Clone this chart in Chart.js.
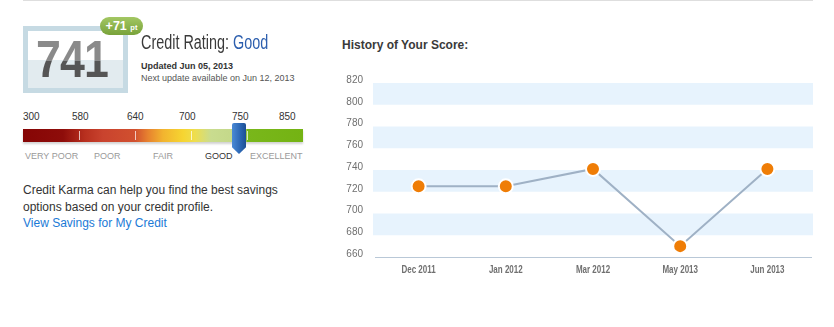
<!DOCTYPE html>
<html>
<head>
<meta charset="utf-8">
<script src="https://cdn.jsdelivr.net/npm/chart.js@4.4.0/dist/chart.umd.min.js"></script>
<style>
  html, body { margin: 0; padding: 0; background: #fff; }
  body { width: 834px; height: 327px; position: relative; overflow: hidden;
         font-family: "Liberation Sans", Arial, Helvetica, sans-serif; color: #333; }
  .cond { transform-origin: 0 50%; white-space: nowrap; }
  #topline { position: absolute; left: 23px; top: 0; width: 790px; height: 1px; background: #dedede; }

  /* score box */
  #scorebox { position: absolute; left: 23px; top: 26px; width: 95px; height: 57px;
              border: 5px solid #c6dae3; background: linear-gradient(#fff 0, #fff 29px, #e2ebef 29px); }
  #score { position: absolute; left: 8px; top: 2px; font-size: 52px; font-weight: bold; line-height: 52px;
           letter-spacing: -1px; transform: scaleX(0.86);
           background: linear-gradient(#8a8a8a 0, #8a8a8a 28px, #555 28px);
           -webkit-background-clip: text; background-clip: text; color: transparent; }
  #badge { position: absolute; left: 100px; top: 17px; width: 43px; height: 18px; border-radius: 9px;
           background: linear-gradient(#a3c763, #78a23a); color: #fff; font-weight: bold;
           font-size: 12.5px; line-height: 18px; text-align: center; }
  #badge small { font-size: 7.5px; }

  #rating { position: absolute; left: 141px; top: 31px; font-size: 20px; color: #3a3a3a; transform: scaleX(0.72); }
  #rating span { color: #2d5fae; }
  #updated { position: absolute; left: 141px; top: 61px; font-size: 9px; font-weight: bold; color: #333; }
  #next { position: absolute; left: 141px; top: 73px; font-size: 9px; color: #555; }

  /* gauge */
  .gnum { position: absolute; top: 111px; font-size: 10px; color: #333; }
  #bar { position: absolute; left: 23px; top: 129px; width: 280px; height: 13px;
         box-shadow: 0 2px 2px rgba(0,0,0,0.18);
         background: linear-gradient(to right,
           #860505 0px, #8e0d0a 40px, #b8301f 62px, #c9432e 80px, #d1502f 112px,
           #e7822f 125px, #f2b42f 140px, #f6d531 160px, #eede4e 172px, #c9dc8f 188px,
           #c1d687 222px, #b9d37a 223px, #b6d26f 223px, #79b71b 224px, #74b313 280px); }
  .gsep { position: absolute; top: 2px; width: 1px; height: 9px; background: rgba(255,255,255,0.7); }
  #marker { position: absolute; left: 232px; top: 123px; width: 14px; height: 31px;
            background: linear-gradient(to right, #4a8ad6, #2b66b3 60%, #1d4f94);
            clip-path: polygon(0 0, 100% 0, 100% 78%, 50% 100%, 0 78%);
            border-radius: 2px 2px 0 0; }
  .glab { position: absolute; top: 151px; font-size: 9px; color: #9a9a9a; }

  #blurb { position: absolute; left: 23px; top: 182px; font-size: 12px; line-height: 16.5px; color: #333; }
  #blurb a { color: #1b7ad6; text-decoration: none; }

  #histtitle { position: absolute; left: 342px; top: 38px; font-size: 12px; font-weight: bold; color: #3a3a3a; }
  #chartwrap { position: absolute; left: 330px; top: 60px; width: 504px; height: 230px; }
</style>
</head>
<body>
<div id="topline"></div>

<div id="scorebox"><div id="score" class="cond">741</div></div>
<div id="badge">+71 <small>pt</small></div>
<div id="rating" class="cond">Credit Rating: <span>Good</span></div>
<div id="updated">Updated Jun 05, 2013</div>
<div id="next">Next update available on Jun 12, 2013</div>

<div id="gauge"></div>
<div id="bar"></div>
<div id="marker"></div>

<div id="blurb">Credit Karma can help you find the best savings<br>options based on your credit profile.<br><a href="#">View Savings for My Credit</a></div>

<div id="histtitle">History of Your Score:</div>
<div id="chartwrap"><canvas id="history"></canvas></div>

<script>
// score range gauge
const gaugeNums = ['300', '580', '640', '700', '750', '850'];
const gaugeNumX = [23, 72, 127, 179, 232, 279];
const gaugeBands = ['VERY POOR', 'POOR', 'FAIR', 'GOOD', 'EXCELLENT'];
const gaugeBandX = [25, 94, 153, 205, 250];
const gaugeSepX = [56, 112, 168, 224];
const currentBand = 'GOOD';

// score history
const months = ['Dec 2011', 'Jan 2012', 'Mar 2012', 'May 2013', 'Jun 2013'];
const scores = [725, 725, 741, 670, 741];
const yMin = 660;
const yMax = 820;
const yStep = 20;

const GAUGE = document.getElementById('gauge');
gaugeNums.forEach((n, i) => {
  const el = document.createElement('div');
  el.className = 'gnum';
  el.textContent = n;
  el.style.left = gaugeNumX[i] + 'px';
  GAUGE.appendChild(el);
});
gaugeBands.forEach((b, i) => {
  const el = document.createElement('div');
  el.className = 'glab';
  el.textContent = b;
  el.style.left = gaugeBandX[i] + 'px';
  if (b === currentBand) el.style.color = '#333';
  GAUGE.appendChild(el);
});
const BAR = document.getElementById('bar');
gaugeSepX.forEach(x => {
  const el = document.createElement('div');
  el.className = 'gsep';
  el.style.left = x + 'px';
  BAR.appendChild(el);
});

// alternating light blue bands behind the line
const bandPlugin = {
  id: 'bands',
  beforeDatasetsDraw(chart) {
    const { ctx, chartArea, scales } = chart;
    ctx.save();
    ctx.fillStyle = '#e7f3fd';
    for (let v = yMax; v > yMin; v -= yStep * 2) {
      const top = scales.y.getPixelForValue(v);
      const bottom = scales.y.getPixelForValue(v - yStep);
      ctx.fillRect(chartArea.left - 2, top, chartArea.right - chartArea.left + 4, bottom - top);
    }
    ctx.restore();
  }
};

// month labels in a narrowed bold face, placed at the x scale's tick pixels
const monthLabels = {
  id: 'monthLabels',
  afterDraw(chart) {
    const { ctx, scales } = chart;
    const x = scales.x;
    ctx.save();
    ctx.font = 'bold 10px "Liberation Sans", Arial, sans-serif';
    ctx.fillStyle = '#707070';
    ctx.textAlign = 'center';
    ctx.textBaseline = 'middle';
    months.forEach((m, i) => {
      const px = x.getPixelForTick(i);
      ctx.save();
      ctx.translate(px, x.top + 13);
      ctx.scale(0.8, 1);
      ctx.fillText(m, 0, 0);
      ctx.restore();
    });
    ctx.restore();
  }
};

new Chart(document.getElementById('history'), {
  type: 'line',
  data: {
    labels: months,
    datasets: [{
      data: scores,
      borderColor: '#9fb1c5',
      borderWidth: 2,
      tension: 0,
      pointRadius: 7,
      pointHoverRadius: 7,
      pointBackgroundColor: '#ef7d06',
      pointBorderColor: '#fff',
      pointBorderWidth: 2,
      clip: false
    }]
  },
  options: {
    responsive: true,
    maintainAspectRatio: false,
    animation: false,
    events: [],
    layout: { padding: { top: 23, right: 23, left: 0, bottom: 0 } },
    plugins: { legend: { display: false }, tooltip: { enabled: false } },
    scales: {
      x: {
        offset: true,
        grid: { display: false, drawTicks: false },
        border: { display: true, color: '#b9c8d7', width: 1 },
        ticks: { display: false },
        afterFit(scale) { scale.height = 33; }
      },
      y: {
        min: yMin,
        max: yMax,
        grid: { display: false, drawTicks: false },
        border: { display: false },
        ticks: { stepSize: yStep, color: '#6f6f6f', font: { family: '"Liberation Sans", Arial, sans-serif', size: 10 }, padding: 12, labelOffset: -3 },
        afterFit(scale) { scale.width = 45; }
      }
    }
  },
  plugins: [bandPlugin, monthLabels]
});
</script>
</body>
</html>
